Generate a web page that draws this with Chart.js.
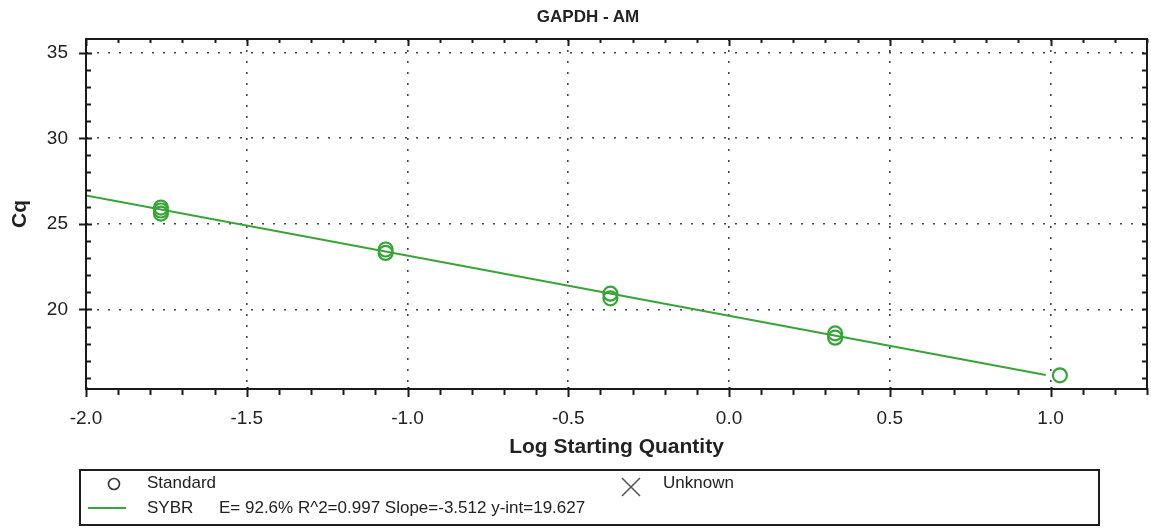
<!DOCTYPE html>
<html>
<head>
<meta charset="utf-8">
<title>GAPDH - AM</title>
<script src="https://cdn.jsdelivr.net/npm/chart.js@4.4.1/dist/chart.umd.min.js"></script>
<style>
  html, body { margin: 0; overflow: hidden; background: #fff; font-family: 'Liberation Sans', Arial, sans-serif; }
  #wrap { position: relative; width: 1151px; height: 529px; }
  #plot { position: absolute; left: 0; top: 0; width: 1151px; height: 470px; }
  #title {
    position: absolute; left: 488px; top: 7px; width: 200px; text-align: center;
    font-size: 17px; line-height: 20px; font-weight: bold; color: #222;
  }
  #legend {
    position: absolute; left: 79px; top: 469px; width: 1017px; height: 53px;
    border: 2px solid #1e1e1e; color: #222; font-size: 17px;
  }
  #legend .item { position: absolute; white-space: nowrap; line-height: 19px; }
  #legend svg { position: absolute; }
</style>
</head>
<body>
<div id="wrap">
  <div id="plot"><canvas id="curve"></canvas></div>
  <div id="title">GAPDH - AM</div>
  <div id="legend">
    <svg style="left:26px;top:6px" width="14" height="14"><circle cx="7" cy="7" r="5.5" fill="none" stroke="#333" stroke-width="1.6"/></svg>
    <span class="item" style="left:66px;top:2px">Standard</span>
    <svg style="left:7px;top:35px" width="40" height="4"><line x1="0" y1="2" x2="38" y2="2" stroke="#3aa53a" stroke-width="2"/></svg>
    <span class="item" style="left:66px;top:27px">SYBR</span>
    <span class="item" id="fitText" style="left:138px;top:27px"></span>
    <svg style="left:539px;top:5px" width="22" height="22"><path d="M2 2 L20 20 M20 2 L2 20" stroke="#555" stroke-width="1.6"/></svg>
    <span class="item" style="left:582px;top:2px">Unknown</span>
  </div>
</div>
<script>
// standard curve: log starting quantity vs Cq
const logQty = [-1.767, -1.767, -1.767, -1.068, -1.068, -0.369, -0.369, 0.330, 0.330, 1.029];
const cqValues = [25.95, 25.78, 25.6, 23.5, 23.3, 20.92, 20.65, 18.6, 18.35, 16.15];

// regression reported by the instrument
const fitSlope = [-3.512];
const fitIntercept = [19.627];
const fitEfficiency = [92.6];
const fitR2 = [0.997];
const fitRange = [-2.0, 0.985];

const xMajor = [-2.0, -1.5, -1.0, -0.5, 0.0, 0.5, 1.0];
const yMajor = [20, 25, 30, 35];

const green = '#38a438';
const fontFamily = "'Liberation Sans', Arial, sans-serif";

document.querySelector('#fitText').textContent =
  'E= ' + fitEfficiency[0].toFixed(1) + '% R^2=' + fitR2[0].toFixed(3) +
  ' Slope=' + fitSlope[0].toFixed(3) + ' y-int=' + fitIntercept[0].toFixed(3);

// minor ticks every 0.1 on x, every 1 on y
var xTicks = [];
for (let k = -20; k <= 13; k++) xTicks.push(k / 10);
var yTicks = [];
for (let k = 16; k <= 35; k++) yTicks.push(k);

function isMajor(list, v) {
  return list.some(m => Math.abs(m - v) < 1e-6);
}

var points = logQty.map((x, i) => ({ x: x, y: cqValues[i] }));
var fitLine = fitRange.map(x => ({ x: x, y: fitIntercept[0] + fitSlope[0] * x }));

// box around the plot with tick marks on all four sides
const frame = {
  id: 'frame',
  afterDraw(chart) {
    const ctx = chart.ctx;
    const a = chart.chartArea;
    const xs = chart.scales.x, ys = chart.scales.y;
    ctx.save();
    ctx.strokeStyle = '#1a1a1a';
    ctx.lineWidth = 2;
    ctx.beginPath();
    xTicks.forEach(v => {
      const px = Math.round(xs.getPixelForValue(v)) + 0.5;
      const major = isMajor(xMajor, v);
      ctx.moveTo(px, a.bottom - (major ? 2 : 1));
      ctx.lineTo(px, a.bottom + (major ? 8 : 6));
      ctx.moveTo(px, a.top);
      ctx.lineTo(px, a.top + (major ? 7 : 4));
    });
    yTicks.forEach(v => {
      const py = Math.round(ys.getPixelForValue(v)) + 0.5;
      const major = isMajor(yMajor, v);
      ctx.moveTo(a.left - (major ? 7 : 1), py);
      ctx.lineTo(a.left + (major ? 6 : 5), py);
      ctx.moveTo(a.right, py);
      ctx.lineTo(a.right - 5, py);
    });
    ctx.stroke();
    ctx.strokeRect(a.left, a.top, a.right - a.left, a.bottom - a.top);
    ctx.restore();
  }
};

new Chart(document.querySelector('#curve'), {
  type: 'scatter',
  data: {
    datasets: [
      {
        label: 'Standard',
        data: points,
        pointStyle: 'circle',
        pointRadius: 7,
        pointHoverRadius: 7,
        pointBorderWidth: 2.2,
        borderColor: green,
        backgroundColor: 'rgba(255,255,255,0)'
      },
      {
        type: 'line',
        label: 'SYBR',
        data: fitLine,
        borderColor: green,
        borderWidth: 2,
        pointRadius: 0,
        fill: false
      }
    ]
  },
  plugins: [frame],
  options: {
    responsive: true,
    maintainAspectRatio: false,
    animation: false,
    layout: { autoPadding: false, padding: { left: 0, right: 4, top: 39, bottom: 0 } },
    plugins: {
      legend: { display: false },
      tooltip: { enabled: false },
      title: { display: false }
    },
    scales: {
      x: {
        type: 'linear',
        min: -2.0,
        max: 1.3,
        afterFit: s => {
          s.height = 81;
          s.paddingLeft = 0;
          s.paddingRight = 0;
        },
        afterBuildTicks: s => { s.ticks = xTicks.map(v => ({ value: v })); },
        ticks: {
          autoSkip: false,
          maxRotation: 0,
          padding: 3,
          color: '#222',
          font: { family: fontFamily, size: 19 },
          callback: v => isMajor(xMajor, v) ? v.toFixed(1) : ''
        },
        grid: {
          drawTicks: true,
          tickLength: 15,
          tickColor: 'rgba(0,0,0,0)',
          lineWidth: 1.6,
          color: c => (c.tick && isMajor(xMajor, c.tick.value) && c.tick.value > -2) ? '#444' : 'rgba(0,0,0,0)'
        },
        border: { display: false, dash: [2, 9] },
        title: {
          display: true,
          text: 'Log Starting Quantity',
          color: '#222',
          font: { family: fontFamily, size: 21, weight: 'bold' },
          padding: { top: 0, bottom: 10 }
        }
      },
      y: {
        type: 'linear',
        min: 15.35,
        max: 35.8,
        afterFit: s => { s.width = 86; },
        afterBuildTicks: s => { s.ticks = yTicks.map(v => ({ value: v })); },
        ticks: {
          autoSkip: false,
          padding: 18,
          color: '#222',
          font: { family: fontFamily, size: 19 },
          callback: v => isMajor(yMajor, v) ? String(v) : ''
        },
        grid: {
          drawTicks: false,
          lineWidth: 1.6,
          color: c => (c.tick && isMajor(yMajor, c.tick.value)) ? '#444' : 'rgba(0,0,0,0)'
        },
        border: { display: false, dash: [2, 9] },
        title: {
          display: true,
          text: 'Cq',
          color: '#222',
          font: { family: fontFamily, size: 21, weight: 'bold' },
          padding: { top: 8, bottom: 0 }
        }
      }
    }
  }
});
</script>
</body>
</html>
